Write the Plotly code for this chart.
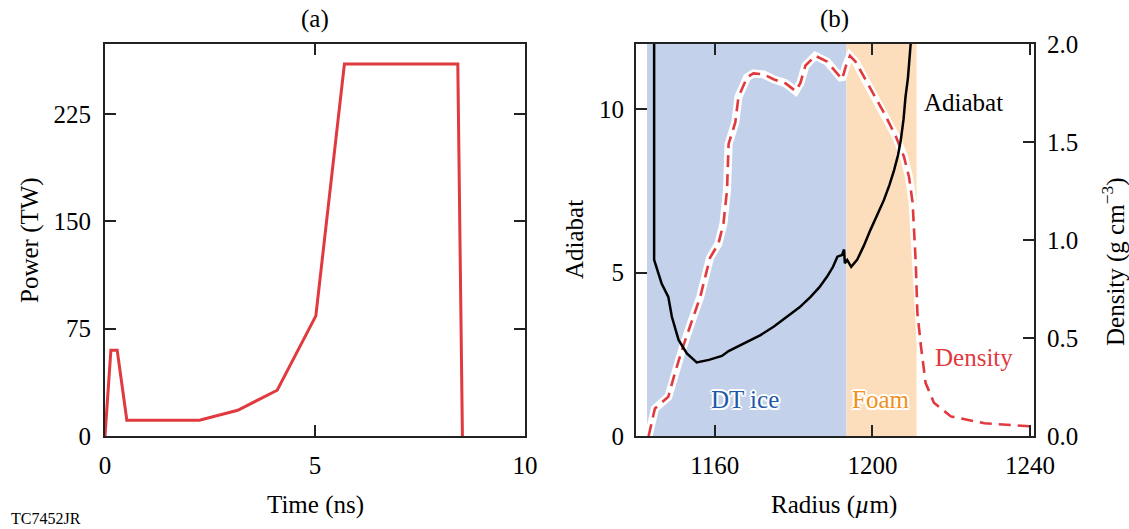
import plotly.graph_objects as go

W, H = 1129, 529

# ---- Panel (a): laser pulse ----
time_ns = [0, 0.14, 0.29, 0.52, 2.25, 3.16, 4.1, 5.02, 5.7, 8.4, 8.51]
power_tw = [0, 60, 60, 11, 11, 18, 32, 84, 260, 260, 0]

# ---- Panel (b): adiabat & density ----
adiabat_r = [1144.6, 1144.6, 1146.5, 1148.2, 1149.1, 1150.8, 1152.9, 1155.4, 1158.5, 1161.8,
             1163.5, 1167.5, 1171.6, 1175.0, 1178.3, 1181.5, 1184.3, 1186.5, 1188.5, 1190.0,
             1191.1, 1192.3, 1192.8, 1193.0, 1193.6, 1194.6, 1196.1, 1197.8, 1199.5, 1201.2,
             1202.9, 1204.3, 1205.5, 1206.5, 1207.2, 1207.9, 1208.4, 1209.0, 1209.3, 1209.7, 1210.0]
adiabat_v = [13.0, 5.39, 4.67, 4.26, 3.65, 2.94, 2.53, 2.25, 2.33, 2.45,
             2.60, 2.83, 3.09, 3.35, 3.65, 3.94, 4.26, 4.55, 4.88, 5.18,
             5.49, 5.54, 5.71, 5.29, 5.39, 5.18, 5.39, 5.82, 6.31, 6.75,
             7.22, 7.68, 8.14, 8.60, 9.06, 9.70, 10.39, 10.95, 11.41, 12.0, 13.0]

density_r = [1143.2, 1144.8, 1148.2, 1150.0, 1152.0, 1154.2, 1156.3, 1158.8, 1160.9, 1162.2,
             1163.1, 1163.5, 1165.2, 1166.0, 1168.2, 1169.8, 1172.4, 1174.9, 1177.9, 1180.5,
             1181.7, 1183.0, 1185.5, 1188.5, 1191.1, 1192.3, 1193.3, 1194.3, 1195.7, 1198.7,
             1202.9, 1205.9, 1208.0, 1209.3, 1210.2, 1211.0, 1211.4, 1212.3, 1213.5, 1215.6,
             1219.9, 1228.4, 1241.0]
density_v = [0.0, 0.14, 0.20, 0.33, 0.46, 0.59, 0.71, 0.91, 0.98, 1.085,
             1.255, 1.49, 1.60, 1.73, 1.83, 1.85, 1.845, 1.82, 1.80, 1.76,
             1.80, 1.89, 1.94, 1.91, 1.85, 1.82, 1.89, 1.94, 1.91, 1.80,
             1.65, 1.53, 1.425, 1.32, 1.19, 0.88, 0.63, 0.46, 0.27, 0.17,
             0.10, 0.065, 0.048]

dt_ice_range = [1142.8, 1193.4]
foam_range = [1193.4, 1211.2]

FONT = "Liberation Serif"
RED = "#e0393e"
AX = "#222222"

def px(x):
    return x / W

def py(y):
    return 1 - y / H

fig = go.Figure()

fig.add_trace(go.Scatter(x=time_ns, y=power_tw, mode="lines",
                         line=dict(color=RED, width=3), xaxis="x", yaxis="y",
                         showlegend=False, hoverinfo="skip"))

fig.add_trace(go.Scatter(x=density_r, y=density_v, mode="lines",
                         line=dict(color="white", width=8), xaxis="x2", yaxis="y2",
                         showlegend=False, hoverinfo="skip"))
fig.add_trace(go.Scatter(x=density_r, y=density_v, mode="lines",
                         line=dict(color=RED, width=2.6, dash="12px,7px"), xaxis="x2", yaxis="y2",
                         showlegend=False, hoverinfo="skip"))
fig.add_trace(go.Scatter(x=adiabat_r, y=adiabat_v, mode="lines",
                         line=dict(color="black", width=2.5), xaxis="x2", yaxis="y3",
                         showlegend=False, hoverinfo="skip"))

ydom = [py(436), py(44)]
common = dict(showgrid=False, zeroline=False, showline=True, linecolor=AX, linewidth=1.8,
              ticks="inside", ticklen=11, tickwidth=1.6, tickcolor=AX, automargin=False,
              tickfont=dict(family=FONT, size=25, color="black"), layer="above traces")

fig.update_layout(
    width=W, height=H,
    margin=dict(l=0, r=0, t=0, b=0),
    paper_bgcolor="white", plot_bgcolor="white",
    font=dict(family=FONT),
    xaxis=dict(domain=[px(105), px(525)], range=[0, 10], tickvals=[0, 5, 10],
               mirror="ticks", anchor="y", ticklabelstandoff=6, **common),
    yaxis=dict(domain=ydom, range=[0, 274], tickvals=[0, 75, 150, 225],
               mirror="ticks", anchor="x", ticklabelstandoff=7, **common),
    xaxis2=dict(domain=[px(636), px(1034)], range=[1140, 1241], tickvals=[1160, 1200, 1240],
                mirror="ticks", anchor="y2", ticklabelstandoff=6, **common),
    yaxis2=dict(domain=ydom, range=[0, 2], tickvals=[0, 0.5, 1.0, 1.5, 2.0], tickformat=".1f",
                side="right", anchor="x2", mirror=False, ticklabelstandoff=6, **common),
    yaxis3=dict(range=[0, 12], tickvals=[0, 5, 10], side="left", overlaying="y2",
                anchor="x2", mirror=False, ticklabelstandoff=5, **common),
)

fig.add_shape(type="rect", xref="x2", yref="y2 domain", x0=dt_ice_range[0], x1=dt_ice_range[1],
              y0=0, y1=1, fillcolor="#c3d2ea", line=dict(width=0), layer="below")
fig.add_shape(type="rect", xref="x2", yref="y2 domain", x0=foam_range[0], x1=foam_range[1],
              y0=0, y1=1, fillcolor="#fddebc", line=dict(width=0), layer="below")

WHITE_SHADOW = ("white 2px 0px 0px, white -2px 0px 0px, white 0px 2px 0px, white 0px -2px 0px, "
                "white 1.5px 1.5px 0px, white -1.5px -1.5px 0px, white 1.5px -1.5px 0px, white -1.5px 1.5px 0px")


def ann(text, x, y, size=25, color="black", angle=0, outline=False):
    f = dict(family=FONT, size=size, color=color)
    if outline:
        f["shadow"] = WHITE_SHADOW
    fig.add_annotation(text=text, x=px(x), y=py(y), xref="paper", yref="paper",
                       showarrow=False, textangle=angle, font=f,
                       xanchor="center", yanchor="middle")

ann("(a)", 315, 19)
ann("(b)", 835, 19)
ann("Time (ns)", 315, 505)
ann("Radius (<i>µ</i>m)", 834, 505)
ann("Power (TW)", 30, 240, angle=-90)
ann("Adiabat", 574, 240, angle=-90)
ann("Density (g cm<sup>−3</sup>)", 1113, 262, angle=-90)
ann("Adiabat", 963, 103)
ann("Density", 974, 357, color=RED)
ann("DT ice", 745, 399, color="#1f5aa8", outline=True)
ann("Foam", 881, 399, color="#f0901e", outline=True)
ann("TC7452JR", 46, 518, size=16)

fig.write_html("out.html", config={"displayModeBar": False},
               post_script="document.body.style.margin='0px';document.body.style.overflow='hidden';")
